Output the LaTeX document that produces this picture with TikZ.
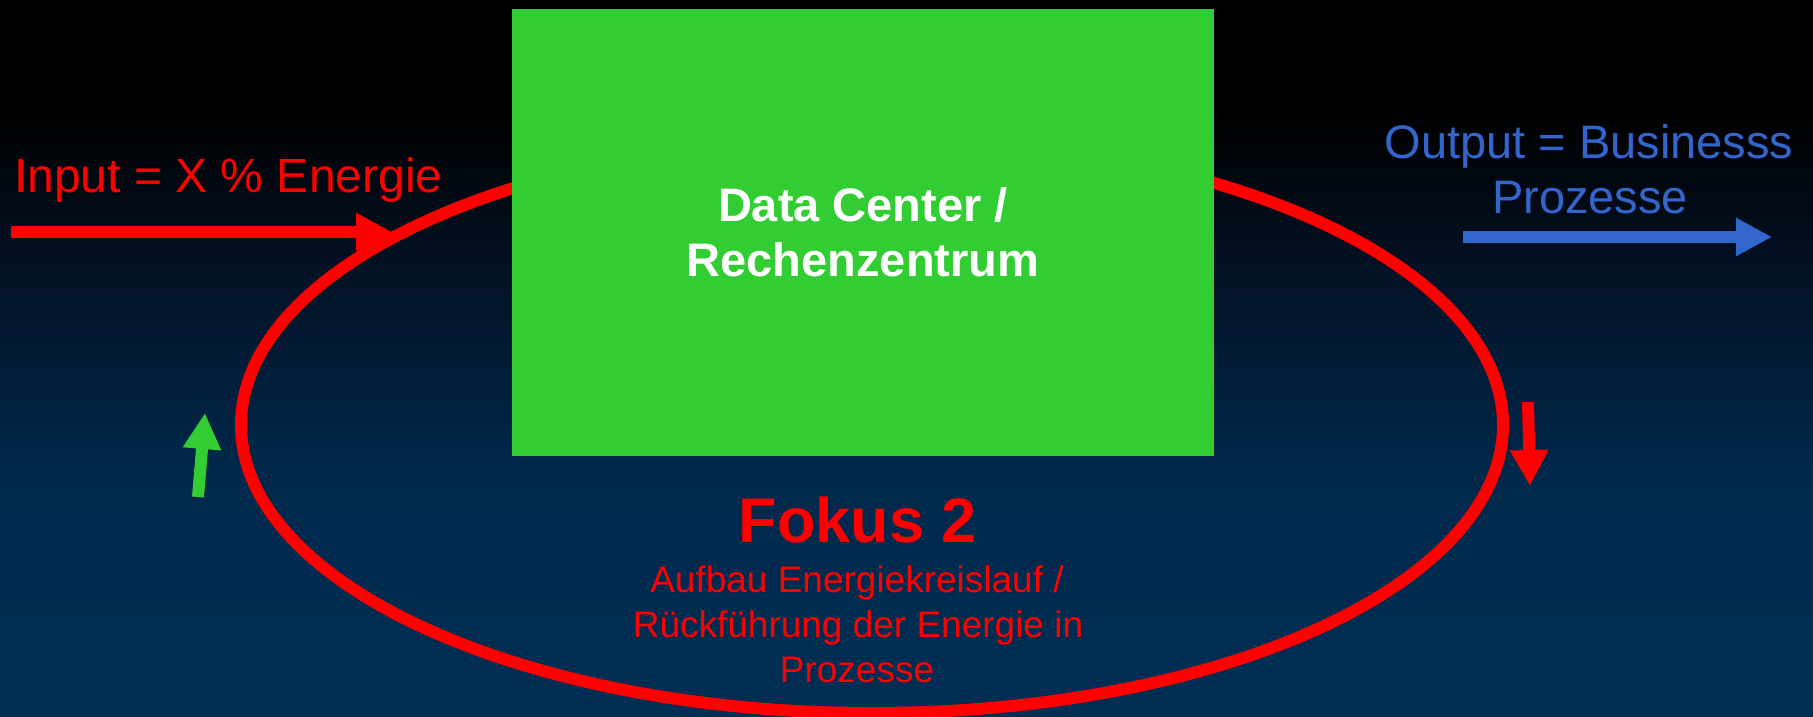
\documentclass[tikz,border=0pt]{standalone}
\usepackage{fontspec}
\setmainfont{Liberation Sans}
\usetikzlibrary{arrows.meta}
\definecolor{dcgreen}{RGB}{50,205,50}
\definecolor{outblue}{RGB}{51,102,204}
\definecolor{bgA}{RGB}{0,0,0}
\definecolor{bgB}{RGB}{3,16,34}
\definecolor{bgC}{RGB}{0,40,75}
\definecolor{bgD}{RGB}{0,46,84}
\begin{document}
\begin{tikzpicture}[x=1pt,y=-1pt,
  fatarrow/.style={line width=12pt,-{Triangle[length=36pt,width=36pt]}},
  lbl/.style={inner sep=0pt,anchor=base,font=\fontsize{47}{55}\selectfont},
  sublbl/.style={inner sep=0pt,anchor=base,text=red,font=\fontsize{37}{45}\selectfont}]
\useasboundingbox (0,0) rectangle (1813,717);
% background
\fill[bgA] (0,0) rectangle (1813,110);
\shade[top color=bgA,bottom color=bgB] (0,110) rectangle (1813,260);
\shade[top color=bgB,bottom color=bgC] (0,260) rectangle (1813,470);
\shade[top color=bgC,bottom color=bgD] (0,470) rectangle (1813,717);
% cycle
\draw[red,line width=12pt] (872,425) ellipse [x radius=631, y radius=288];
% data center box
\node[fill=dcgreen,minimum width=702pt,minimum height=447pt,inner sep=0pt,
      text=white,align=center,font=\fontsize{47}{55}\selectfont\bfseries]
  (dc) at (863,232.5) {Data Center /\\Rechenzentrum};
% input
\node[lbl,anchor=base west,text=red,font=\fontsize{48}{55}\selectfont] (intext) at (14,192) {Input = X \% Energie};
\coordinate (inA) at (11,232);
\coordinate (inB) at (392,232);
\draw[fatarrow,red] (inA) -- (inB);
% output
\node[lbl,text=outblue] (outtext1) at (1589,158) {Output = Businesss};
\node[lbl,text=outblue] (outtext2) at (1590,213) {Prozesse};
\coordinate (outA) at (1463,237);
\coordinate (outB) at (1772,237);
\draw[fatarrow,outblue] (outA) -- (outB);
% direction arrows
\coordinate (gA) at (198,497);
\coordinate (gB) at (205,413);
\draw[fatarrow,dcgreen] (gA) -- (gB);
\coordinate (rA) at (1528,402);
\coordinate (rB) at (1530,486);
\draw[fatarrow,red] (rA) -- (rB);
% focus text
\node[inner sep=0pt,anchor=base,text=red,font=\fontsize{63}{70}\selectfont\bfseries] (fokus) at (858,542) {Fokus 2};
\node[sublbl] (sub1) at (857,592) {Aufbau Energiekreislauf /};
\node[sublbl] (sub2) at (858,637) {Rückführung der Energie in};
\node[sublbl] (sub3) at (857,682) {Prozesse};
\end{tikzpicture}
\end{document}
